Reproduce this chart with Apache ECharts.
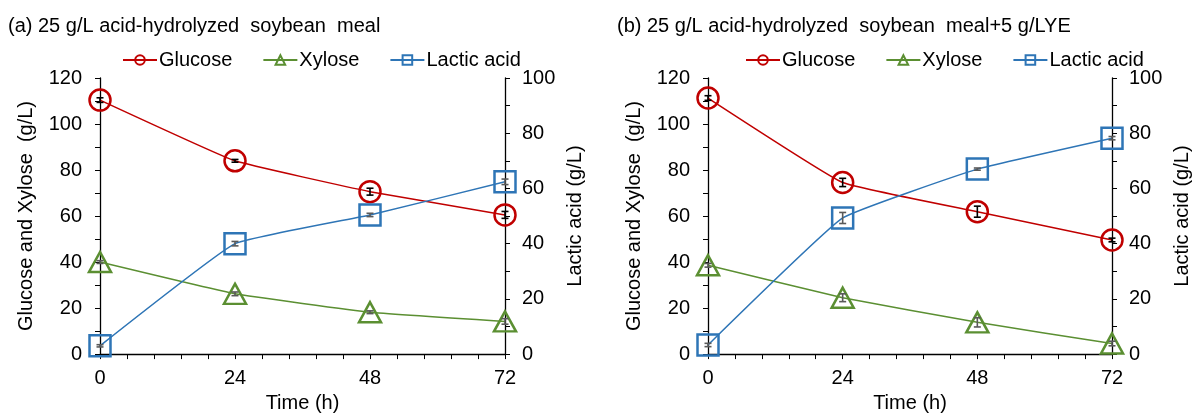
<!DOCTYPE html>
<html>
<head>
<meta charset="utf-8">
<script src="https://cdn.jsdelivr.net/npm/echarts@6/dist/echarts.min.js"></script>
<style>
  html, body { margin: 0; padding: 0; background: #fff; }
  #chart { width: 1193px; height: 418px; }
</style>
</head>
<body>
<div id="chart"></div>
<script>
  'use strict';

  // sampling times (h)
  const timeH = [0, 24, 48, 72];
  const xTickLabels = ['0', '24', '48', '72'];

  // panel (a): 25 g/L acid-hydrolyzed soybean meal
  const glucoseA = [110.4, 84.0, 70.6, 60.5];
  const glucoseErrA = [1.0, 0.6, 1.5, 1.5];
  const xyloseA = [40.0, 26.2, 18.2, 14.2];
  const xyloseErrA = [0.6, 0.8, 0.6, 1.2];
  const lacticA = [3.0, 40.0, 50.4, 62.4];
  const lacticErrA = [0.4, 0.8, 0.6, 1.0];

  // panel (b): + 5 g/L YE
  const glucoseB = [111.3, 74.6, 61.9, 49.6];
  const glucoseErrB = [1.0, 1.8, 2.4, 0.8];
  const xyloseB = [38.6, 24.5, 13.8, 4.6];
  const xyloseErrB = [0.8, 1.7, 2.0, 1.0];
  const lacticB = [3.3, 49.3, 67.0, 78.2];
  const lacticErrB = [0.6, 2.0, 0.4, 0.6];

  const seriesNames = ['Glucose', 'Xylose', 'Lactic acid'];
  const titles = [
    '(a) 25 g/L acid-hydrolyzed  soybean  meal',
    '(b) 25 g/L acid-hydrolyzed  soybean  meal+5 g/LYE'
  ];

  const RED = '#C00000';
  const GREEN = '#5B8F32';
  const BLUE = '#2E75B6';
  const ERR_GREY = '#595959';
  const FONT = 'Liberation Sans, Arial, sans-serif';
  const FS = 20;

  const pairs = function (xs, ys) {
    return xs.map(function (x, i) { return [x, ys[i]]; });
  };
  const triples = function (xs, ys, es) {
    return xs.map(function (x, i) { return [x, ys[i], es[i]]; });
  };

  const errorRender = function (color) {
    return function (params, api) {
      const x = api.value(0);
      const y = api.value(1);
      const e = api.value(2);
      const top = api.coord([x, y + e]);
      const bot = api.coord([x, y - e]);
      const hw = 3.5;
      const st = { stroke: color, lineWidth: 1.6 };
      return {
        type: 'group',
        children: [
          { type: 'line', shape: { x1: top[0], y1: top[1], x2: bot[0], y2: bot[1] }, style: st },
          { type: 'line', shape: { x1: top[0] - hw, y1: top[1], x2: top[0] + hw, y2: top[1] }, style: st },
          { type: 'line', shape: { x1: bot[0] - hw, y1: bot[1], x2: bot[0] + hw, y2: bot[1] }, style: st }
        ]
      };
    };
  };

  const axisText = { color: '#000', fontFamily: FONT, fontSize: FS };
  const axisLine = { show: true, lineStyle: { color: '#000', width: 1.3 } };

  const makeX = function (gridIndex) {
    return {
      type: 'value', gridIndex: gridIndex, min: 0, max: 72, interval: 24,
      name: 'Time (h)', nameLocation: 'middle', nameGap: 38,
      nameTextStyle: axisText,
      axisLine: axisLine,
      axisTick: { show: true, length: 5, lineStyle: { color: '#000' } },
      minorTick: { show: true, splitNumber: 5, length: 5, lineStyle: { color: '#000' } },
      axisLabel: Object.assign({ margin: 14, formatter: function (v) {
        const i = timeH.indexOf(v);
        return i >= 0 ? xTickLabels[i] : '';
      } }, axisText),
      splitLine: { show: false }
    };
  };

  const makeYLeft = function (gridIndex) {
    return {
      type: 'value', gridIndex: gridIndex, position: 'left', min: 0, max: 120, interval: 20,
      name: 'Glucose and Xylose  (g/L)', nameLocation: 'middle', nameGap: 64, nameRotate: 90,
      nameTextStyle: axisText,
      axisLine: axisLine,
      axisTick: { show: true, length: 5, lineStyle: { color: '#000' } },
      minorTick: { show: true, splitNumber: 2, length: 5, lineStyle: { color: '#000' } },
      axisLabel: Object.assign({ margin: 18 }, axisText),
      splitLine: { show: false }
    };
  };

  const makeYRight = function (gridIndex) {
    return {
      type: 'value', gridIndex: gridIndex, position: 'right', min: 0, max: 100, interval: 20,
      name: 'Lactic acid (g/L)', nameLocation: 'middle', nameGap: 60, nameRotate: 90,
      nameTextStyle: axisText,
      axisLine: axisLine,
      axisTick: { show: true, length: 5, lineStyle: { color: '#000' } },
      minorTick: { show: true, splitNumber: 2, length: 5, lineStyle: { color: '#000' } },
      axisLabel: Object.assign({ margin: 17 }, axisText),
      splitLine: { show: false }
    };
  };

  const lineSeries = function (name, data, color, symbol, size, xi, yi) {
    return {
      name: name, type: 'line', xAxisIndex: xi, yAxisIndex: yi,
      data: data, smooth: 0.1, symbol: symbol, symbolSize: size,
      showAllSymbol: true,
      lineStyle: { color: color, width: 1.5 },
      itemStyle: { color: 'rgba(255,255,255,0)', borderColor: color, borderWidth: 2.5 },
      emphasis: { disabled: true },
      z: 3
    };
  };

  const errSeries = function (data, color, xi, yi) {
    return {
      type: 'custom', xAxisIndex: xi, yAxisIndex: yi,
      data: data, renderItem: errorRender(color), z: 5, silent: true
    };
  };

  const panelSeries = function (p, g, ge, x, xe, l, le) {
    const xi = p;
    const yl = p * 2;
    const yr = p * 2 + 1;
    return [
      lineSeries('Glucose', pairs(timeH, g), RED, 'circle', 21, xi, yl),
      lineSeries('Xylose', pairs(timeH, x), GREEN, 'triangle', [22, 20], xi, yl),
      lineSeries('Lactic acid', pairs(timeH, l), BLUE, 'rect', 21, xi, yr),
      errSeries(triples(timeH, g, ge), '#000', xi, yl),
      errSeries(triples(timeH, x, xe), ERR_GREY, xi, yl),
      errSeries(triples(timeH, l, le), ERR_GREY, xi, yr)
    ];
  };

  const makeLegend = function (left) {
    return {
      data: seriesNames, left: left, top: 45, itemGap: 30,
      itemWidth: 34, itemHeight: 12, selectedMode: false,
      textStyle: { color: '#000', fontFamily: FONT, fontSize: FS, padding: [0, 0, 0, -3] }
    };
  };

  const chart = echarts.init(document.getElementById('chart'), null, { renderer: 'canvas' });
  chart.setOption({
    animation: false,
    backgroundColor: '#fff',
    title: [
      { text: titles[0], left: 3, top: 11, textStyle: { color: '#000', fontFamily: FONT, fontSize: FS, fontWeight: 'normal' } },
      { text: titles[1], left: 612, top: 11, textStyle: { color: '#000', fontFamily: FONT, fontSize: FS, fontWeight: 'normal' } }
    ],
    legend: [makeLegend(117), makeLegend(740)],
    grid: [
      { left: 100, right: 688, top: 78, bottom: 57 },
      { left: 708, right: 80, top: 78, bottom: 57 }
    ],
    xAxis: [makeX(0), makeX(1)],
    yAxis: [makeYLeft(0), makeYRight(0), makeYLeft(1), makeYRight(1)],
    series: []
      .concat(panelSeries(0, glucoseA, glucoseErrA, xyloseA, xyloseErrA, lacticA, lacticErrA))
      .concat(panelSeries(1, glucoseB, glucoseErrB, xyloseB, xyloseErrB, lacticB, lacticErrB))
  });
</script>
</body>
</html>
